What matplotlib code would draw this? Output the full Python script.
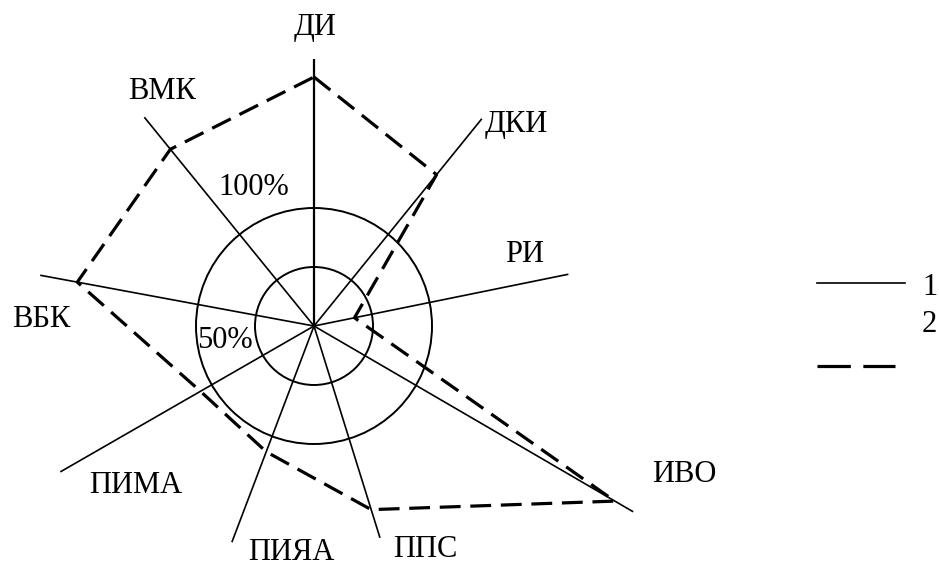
import numpy as np
import matplotlib
matplotlib.use("Agg")
import matplotlib.pyplot as plt
from matplotlib.patches import Circle

plt.rcParams['font.family'] = ['Liberation Serif', 'DejaVu Serif']
plt.rcParams['lines.scale_dashes'] = False

# ---- data ----
labels = ['ДИ', 'ДКИ', 'РИ', 'ИВО', 'ППС', 'ПИЯА', 'ПИМА', 'ВБК', 'ВМК']
axis_angles_deg = [90, 51, 11.5, -30.2, -72.7, -110.8, -150.1, 169.5, 129.1]
series1 = [226, 226, 220, 313, 188, 196, 248, 236, 228]   # spokes, %
series2 = [211, 165, 35, 295, 163, 114, 111, 204, 193]    # dashed polygon, %
ring_levels = [50, 100]
ring_labels = ['50%', '100%']
legend_labels = ['1', '2']

# ---- layout ----
W, H, DPI = 939, 566, 100
cx, cy = 314, 326          # centre in pixels
px_per_pct = 118 / 100.0   # 100% ring radius in px
FS = 22

label_pos = {  # (x centre, baseline) in px
    'ДИ': (315, 35), 'ВМК': (162, 99), 'ДКИ': (516, 132), 'РИ': (525, 262),
    'ВБК': (41, 327), 'ПИМА': (136, 493), 'ПИЯА': (291, 560), 'ППС': (425, 557),
    'ИВО': (684, 482),
}
ring_label_pos = {'100%': (254, 195), '50%': (225, 348)}

fig = plt.figure(figsize=(W / DPI, H / DPI), dpi=DPI)
ax = fig.add_axes([0, 0, 1, 1])
ax.set_xlim(0, W)
ax.set_ylim(H, 0)
ax.set_aspect('equal')
ax.axis('off')

ang = np.deg2rad(axis_angles_deg)

def to_xy(vals):
    r = np.asarray(vals, float) * px_per_pct
    return cx + r * np.cos(ang), cy - r * np.sin(ang)

# rings
for lv in ring_levels:
    ax.add_patch(Circle((cx, cy), lv * px_per_pct, fill=False, ec='black', lw=1.4))

# spokes (series 1)
sx, sy = to_xy(series1)
for i in range(len(labels)):
    ax.plot([cx, sx[i]], [cy, sy[i]], color='black', lw=1.2 if i else 1.6,
            solid_capstyle='butt')

# dashed polygon (series 2)
px, py = to_xy(series2)
ax.plot(np.r_[px, px[0]], np.r_[py, py[0]], color='black', lw=2.3,
        linestyle=(0, (15, 7)), dash_capstyle='butt')

# labels
for lab in labels:
    x, y = label_pos[lab]
    ax.text(x, y, lab, ha='center', va='baseline', fontsize=FS)
for lab in ring_labels:
    x, y = ring_label_pos[lab]
    ax.text(x, y, lab, ha='center', va='baseline', fontsize=FS)

# legend
ax.plot([817, 905], [283, 283], color='black', lw=1.2)
ax.plot([817, 895], [366, 366], color='black', lw=2.3,
        linestyle=(0, (24, 9)), dash_capstyle='butt')
ax.text(922, 295, legend_labels[0], ha='left', va='baseline', fontsize=FS)
ax.text(922, 332, legend_labels[1], ha='left', va='baseline', fontsize=FS)

fig.savefig('out.png', dpi=DPI, facecolor='white')
